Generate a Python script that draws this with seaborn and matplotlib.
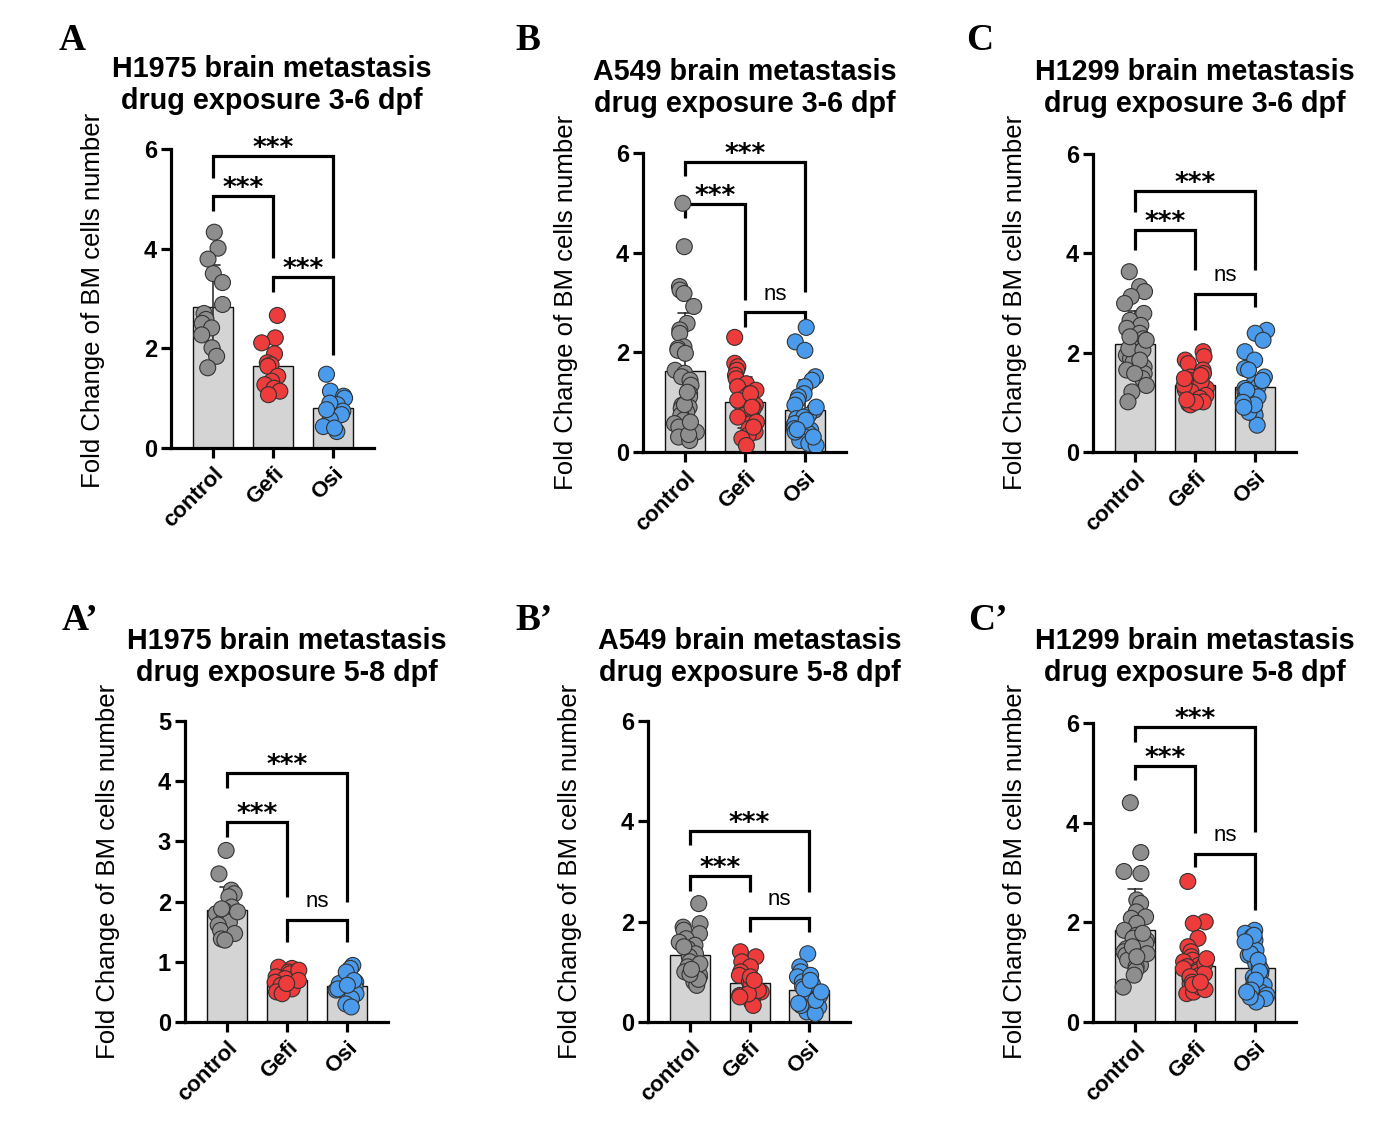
import numpy as np
import pandas as pd
import matplotlib
matplotlib.use("Agg")
import matplotlib.pyplot as plt
import seaborn as sns

sns.set_style("ticks")
plt.rcParams['font.family'] = ['Liberation Sans', 'DejaVu Sans']
plt.rcParams['text.color'] = 'black'
plt.rcParams['axes.edgecolor'] = 'black'
plt.rcParams['xtick.color'] = 'black'
plt.rcParams['ytick.color'] = 'black'

# ----------------------------------------
# Data (fold change of BM cells number)
# ----------------------------------------
groups = ["control", "Gefi", "Osi"]

h1975_36_control = [4.33, 4.01, 3.79, 3.50, 3.32, 2.88, 2.70, 2.58, 2.50, 2.41, 2.27, 2.01, 1.84, 1.61]
h1975_36_gefi = [2.66, 2.21, 2.11, 1.89, 1.71, 1.67, 1.64, 1.44, 1.34, 1.27, 1.20, 1.14, 1.07]
h1975_36_osi = [1.48, 1.14, 1.04, 1.00, 0.87, 0.74, 0.67, 0.57, 0.43, 0.33, 0.40, 0.90, 0.77]

a549_36_control = [4.99, 4.12, 3.32, 3.25, 3.18, 2.92, 2.58, 2.45, 2.38, 2.11, 2.08, 2.04,
                   1.98, 1.64, 1.58, 1.51, 1.44, 1.34, 1.17, 1.11, 0.94, 0.90, 0.87, 0.80,
                   0.74, 0.64, 0.57, 0.50, 0.40, 0.30, 0.23, 0.35, 0.60, 0.95, 1.20]
a549_36_gefi = [2.30, 1.78, 1.71, 1.64, 1.54, 1.47, 1.37, 1.31, 1.24, 1.17, 1.11, 1.07,
                1.01, 0.94, 0.87, 0.80, 0.74, 0.64, 0.57, 0.47, 0.40, 0.34, 0.27, 0.13,
                0.70, 1.04, 1.17, 0.90, 0.60, 0.50]
a549_36_osi = [2.50, 2.21, 2.04, 1.51, 1.44, 1.31, 1.17, 1.11, 1.04, 0.94, 0.84, 0.74,
               0.67, 0.60, 0.54, 0.50, 0.44, 0.37, 0.30, 0.23, 0.17, 0.13, 0.70, 0.57,
               0.47, 0.40, 0.90, 0.64, 0.30, 0.45]

h1299_36_control = [3.63, 3.33, 3.23, 3.13, 2.99, 2.79, 2.65, 2.55, 2.49, 2.39, 2.28, 2.18,
                    2.12, 2.02, 1.95, 1.88, 1.81, 1.71, 1.65, 1.58, 1.48, 1.34, 1.21, 1.01,
                    2.08, 2.05, 2.25, 1.85, 1.58, 2.32]
h1299_36_gefi = [2.02, 1.92, 1.85, 1.78, 1.65, 1.58, 1.51, 1.44, 1.38, 1.31, 1.24, 1.18,
                 1.11, 1.04, 0.97, 1.28, 1.41, 1.21, 1.14, 1.08, 1.01, 1.34, 1.48, 1.54,
                 0.95, 1.00, 1.05]
h1299_36_osi = [2.45, 2.39, 2.25, 2.02, 1.85, 1.68, 1.51, 1.38, 1.28, 1.21, 1.14, 1.08,
                0.97, 0.87, 0.74, 0.54, 1.31, 1.18, 1.11, 1.04, 0.91, 1.44, 1.24, 1.65,
                0.80, 0.95, 1.00, 0.90]

h1975_58_control = [2.85, 2.46, 2.19, 2.13, 2.08, 1.91, 1.85, 1.80, 1.77, 1.72, 1.66, 1.61,
                    1.52, 1.47, 1.38, 1.36, 1.83, 1.88]
h1975_58_gefi = [0.91, 0.89, 0.83, 0.80, 0.75, 0.72, 0.66, 0.61, 0.55, 0.50, 0.47, 0.86, 0.69, 0.64]
h1975_58_osi = [0.94, 0.89, 0.75, 0.66, 0.64, 0.58, 0.53, 0.47, 0.39, 0.30, 0.25, 0.83, 0.69, 0.55, 0.61]

a549_58_control = [2.36, 1.96, 1.89, 1.83, 1.76, 1.66, 1.59, 1.53, 1.46, 1.36, 1.30, 1.20,
                   1.10, 1.00, 0.90, 0.80, 0.73, 0.95, 1.50, 1.16, 0.85, 0.95, 1.05]
a549_58_gefi = [1.40, 1.30, 1.20, 1.10, 1.00, 0.93, 0.86, 0.80, 0.73, 0.66, 0.60, 0.53,
                0.47, 0.40, 0.33, 0.70, 0.76, 0.63, 0.56, 0.90, 0.83, 0.50]
a549_58_osi = [1.36, 1.10, 1.00, 0.90, 0.80, 0.70, 0.63, 0.56, 0.47, 0.40, 0.30, 0.20,
               0.17, 0.93, 0.76, 0.66, 0.53, 0.43, 0.33, 0.83, 0.60, 0.37]

h1299_58_control = [4.40, 3.40, 3.02, 2.98, 2.45, 2.38, 2.21, 2.11, 2.08, 1.98, 1.84, 1.74,
                    1.68, 1.64, 1.58, 1.47, 1.41, 1.34, 1.24, 1.14, 1.11, 1.04, 0.94, 0.70,
                    1.51, 1.37, 1.78, 1.31]
h1299_58_gefi = [2.82, 2.01, 1.98, 1.68, 1.51, 1.41, 1.31, 1.24, 1.21, 1.14, 1.11, 1.04,
                 1.01, 0.94, 0.87, 0.77, 0.70, 0.64, 0.57, 1.17, 1.07, 0.97, 0.91, 0.80,
                 1.27, 0.60, 0.70, 0.75, 0.65, 0.80]
h1299_58_osi = [1.84, 1.78, 1.71, 1.64, 1.54, 1.44, 1.34, 1.27, 1.17, 1.11, 1.04, 0.97,
                0.90, 0.80, 0.74, 0.67, 0.60, 0.54, 0.47, 0.40, 1.37, 1.24, 1.01, 0.84,
                0.64, 1.74, 1.61, 0.50, 0.60]

titles = ["H1975 brain metastasis\ndrug exposure 3-6 dpf",
          "A549 brain metastasis\ndrug exposure 3-6 dpf",
          "H1299 brain metastasis\ndrug exposure 3-6 dpf",
          "H1975 brain metastasis\ndrug exposure 5-8 dpf",
          "A549 brain metastasis\ndrug exposure 5-8 dpf",
          "H1299 brain metastasis\ndrug exposure 5-8 dpf"]
panel_letters = ["A", "B", "C", "A\u2019", "B\u2019", "C\u2019"]

panel_data = [
    (h1975_36_control, h1975_36_gefi, h1975_36_osi),
    (a549_36_control, a549_36_gefi, a549_36_osi),
    (h1299_36_control, h1299_36_gefi, h1299_36_osi),
    (h1975_58_control, h1975_58_gefi, h1975_58_osi),
    (a549_58_control, a549_58_gefi, a549_58_osi),
    (h1299_58_control, h1299_58_gefi, h1299_58_osi),
]

# brackets: (i, j, y bar, y left end, y right end, label)
brackets = [
    [(0, 1, 5.05, 4.75, 3.81, "***"), (0, 2, 5.85, 5.42, 3.81, "***"), (1, 2, 3.44, 3.14, 1.87, "***")],
    [(0, 1, 4.98, 4.69, 3.05, "***"), (0, 2, 5.82, 5.53, 3.22, "***"), (1, 2, 2.80, 2.51, 2.61, "ns")],
    [(0, 1, 4.46, 4.07, 3.66, "***"), (0, 2, 5.26, 4.84, 3.66, "***"), (1, 2, 3.19, 2.45, 2.92, "ns")],
    [(0, 1, 3.32, 3.07, 2.08, "***"), (0, 2, 4.13, 3.88, 1.99, "***"), (1, 2, 1.70, 1.33, 1.33, "ns")],
    [(0, 1, 2.92, 2.62, 2.59, "***"), (0, 2, 3.81, 3.52, 2.59, "***"), (1, 2, 2.08, 1.79, 1.79, "ns")],
    [(0, 1, 5.13, 4.86, 3.79, "***"), (0, 2, 5.92, 5.61, 3.82, "***"), (1, 2, 3.38, 3.12, 2.25, "ns")],
]

y_max = [6, 6, 6, 5, 6, 6]
y_step = [2, 2, 2, 1, 2, 2]

# layout in pixels: axes (left, right, top, bottom), title centre, letter pos, ylabel x
W, H = 1379, 1137
axes_px = [(171, 374, 149, 448), (643, 846, 153, 452), (1093, 1296, 154, 452),
           (185, 388, 721, 1022), (648, 850, 721, 1022), (1093, 1296, 723, 1022)]
title_px = [(272, 85), (745, 88), (1195, 88), (287, 657), (750, 657), (1195, 657)]
letter_px = [(72, 40), (528, 40), (980, 40), (80, 620), (534, 620), (988, 620)]
ylabel_px = [(93, 300), (566, 302), (1015, 302), (108, 871), (570, 871), (1015, 871)]

point_colors = {"control": "#8E8E8E", "Gefi": "#EE3B3B", "Osi": "#4A9BEB"}

np.random.seed(3)
fig = plt.figure(figsize=(W / 100, H / 100), dpi=100)

for k in range(6):
    l, r, t, b = axes_px[k]
    ax = fig.add_axes([l / W, 1 - b / H, (r - l) / W, (b - t) / H])

    ctrl, gefi, osi = panel_data[k]
    df = pd.DataFrame({
        "group": ["control"] * len(ctrl) + ["Gefi"] * len(gefi) + ["Osi"] * len(osi),
        "value": ctrl + gefi + osi,
    })

    sns.barplot(data=df, x="group", y="value", order=groups, color="#D4D4D4",
                width=0.67, errorbar="sd", capsize=0.22, edgecolor="#111111",
                linewidth=1.0, err_kws={"color": "#333333", "linewidth": 1.2}, ax=ax)
    sns.stripplot(data=df, x="group", y="value", order=groups, hue="group",
                  palette=point_colors, jitter=0.2, size=11.5, linewidth=0.8,
                  edgecolor="#333333", legend=False, zorder=3, ax=ax)

    ax.set_xlim(-0.7, 2.68)
    ax.set_ylim(0, y_max[k])
    ax.set_yticks(np.arange(0, y_max[k] + 0.1, y_step[k]))
    ax.set_xticks(range(3))
    ax.set_xticklabels(groups, rotation=45, ha="right", rotation_mode="anchor")
    ax.set_xlabel("")
    ax.set_ylabel("")
    sns.despine(ax=ax)
    for s in ["left", "bottom"]:
        ax.spines[s].set_linewidth(2.3)
    ax.tick_params(width=2.3, length=7, color="black")
    ax.tick_params(axis="y", labelsize=17, pad=3)
    ax.tick_params(axis="x", labelsize=16, pad=4)
    for lab in ax.get_xticklabels() + ax.get_yticklabels():
        lab.set_fontweight("bold")

    for i, j, yb, yl, yr, lab in brackets[k]:
        ax.plot([i, i, j, j], [yl, yb, yb, yr], color="black", lw=2.3,
                clip_on=False, solid_capstyle="butt", solid_joinstyle="miter")
        if lab == "ns":
            ax.annotate(lab, ((i + j) / 2, yb), xytext=(0, 9), textcoords="offset points",
                        ha="center", va="baseline", fontsize=16, annotation_clip=False)
        else:
            ax.annotate(lab, ((i + j) / 2, yb), xytext=(0, 0),
                        textcoords="offset points", ha="center", va="baseline",
                        fontsize=19, fontweight="bold", family=["DejaVu Sans"],
                        annotation_clip=False)

    tx, ty = title_px[k]
    fig.text(tx / W, 1 - ty / H, titles[k], ha="center", va="center",
             fontsize=20.7, fontweight="bold", linespacing=1.15)
    lx, ly = letter_px[k]
    fig.text(lx / W, 1 - ly / H, panel_letters[k], ha="center", va="center",
             fontsize=27, fontweight="bold", family=["Liberation Serif", "DejaVu Serif"])
    yx, yy = ylabel_px[k]
    fig.text(yx / W, 1 - yy / H, "Fold Change of BM cells number", ha="center",
             va="center", rotation=90, fontsize=18.5)

plt.savefig("out.png", dpi=100)
